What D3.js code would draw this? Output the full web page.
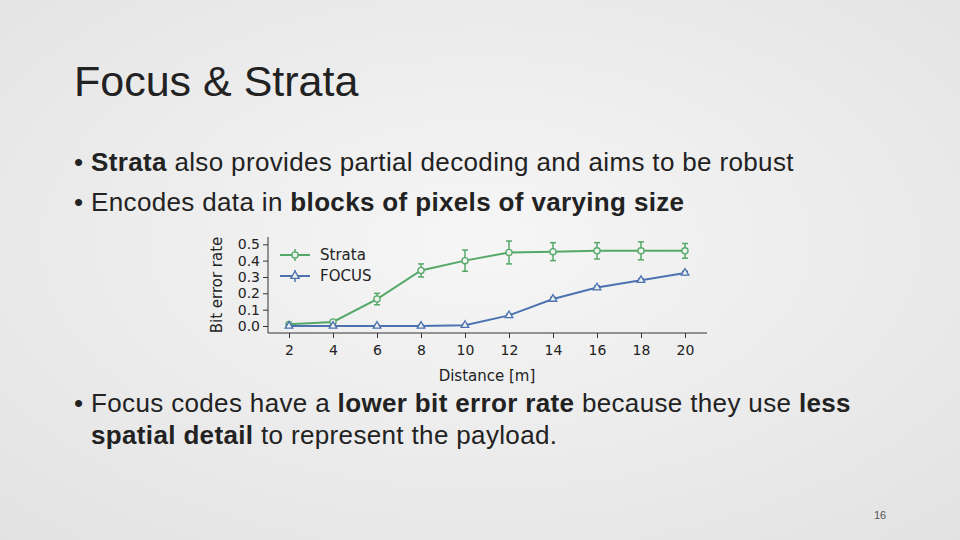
<!DOCTYPE html>
<html><head><meta charset="utf-8">
<script src="https://d3js.org/d3.v7.min.js"></script>
<style>
body{margin:0;}
svg{display:block;}
</style></head>
<body>
<script>
  var distances = [2, 4, 6, 8, 10, 12, 14, 16, 18, 20];
  var strataBer = [0.01, 0.025, 0.165, 0.34, 0.40, 0.45, 0.455, 0.46, 0.46, 0.46];
  var strataErr = [0.005, 0.01, 0.035, 0.04, 0.065, 0.07, 0.055, 0.05, 0.055, 0.045];
  var focusBer = [0, 0, 0, 0, 0.005, 0.065, 0.165, 0.235, 0.28, 0.325];
  var focusErr = [0.005, 0.005, 0.005, 0.005, 0.005, 0.008, 0.01, 0.01, 0.01, 0.01];
  var yTicks = [0, 0.1, 0.2, 0.3, 0.4, 0.5];

  var green = "#55a868", blue = "#4c72b0";

  var svg = d3.select("body").append("svg").attr("width", 960).attr("height", 540);

  // slide background
  var grad = svg.append("defs").append("radialGradient").attr("id", "bg")
    .attr("cx", "50%").attr("cy", "45%").attr("r", "75%");
  grad.append("stop").attr("offset", "0%").attr("stop-color", "#f6f6f6");
  grad.append("stop").attr("offset", "100%").attr("stop-color", "#e2e2e2");
  svg.append("rect").attr("width", 960).attr("height", 540).attr("fill", "url(#bg)");

  var font = "'Liberation Sans', Arial, sans-serif";
  svg.append("text").attr("x", 74).attr("y", 96).attr("font-family", font)
    .attr("font-size", 43).attr("fill", "#222").text("Focus & Strata");

  function bullet(y, parts, x) {
    var t = svg.append("text").attr("x", x || 74).attr("y", y).attr("font-family", font)
      .attr("font-size", 26).attr("letter-spacing", 0.35).attr("fill", "#222");
    parts.forEach(p => t.append("tspan").attr("font-weight", p[1] ? "bold" : null).text(p[0]));
  }
  bullet(171, [["• ", 0], ["Strata", 1], [" also provides partial decoding and aims to be robust", 0]]);
  bullet(211, [["• Encodes data in ", 0], ["blocks of pixels of varying size", 1]]);
  bullet(412, [["• Focus codes have a ", 0], ["lower bit error rate", 1], [" because they use ", 0], ["less", 1]]);
  bullet(444, [["spatial detail", 1], [" to represent the payload.", 0]], 91);
  svg.append("text").attr("x", 880).attr("y", 519).attr("text-anchor", "middle")
    .attr("font-family", font).attr("font-size", 11).attr("fill", "#555").text("16");

  // chart
  var x = d3.scaleLinear().domain([2, 20]).range([289, 685]);
  var y = d3.scaleLinear().domain([0, 0.5]).range([326, 244.3]);
  var cf = "'DejaVu Sans', sans-serif";
  var g = svg.append("g");

  var xAxis = g.append("g").attr("transform", "translate(0,333)")
    .call(d3.axisBottom(x).tickValues(distances).tickSize(5).tickPadding(7));
  xAxis.select(".domain").attr("d", "M268,0H707");
  var yAxis = g.append("g").attr("transform", "translate(268,0)")
    .call(d3.axisLeft(y).tickValues(yTicks).tickFormat(d3.format(".1f")).tickSize(5).tickPadding(3));
  yAxis.select(".domain").attr("d", "M0,237V333");
  g.selectAll(".tick text").attr("font-family", cf).attr("font-size", 14).attr("fill", "#222");
  g.selectAll(".domain,.tick line").attr("stroke", "#333");

  g.append("text").attr("transform", "translate(222,285) rotate(-90)").attr("text-anchor", "middle")
    .attr("font-family", cf).attr("font-size", 15).attr("fill", "#222").text("Bit error rate");
  g.append("text").attr("x", 487).attr("y", 381).attr("text-anchor", "middle")
    .attr("font-family", cf).attr("font-size", 15).attr("fill", "#222").text("Distance [m]");

  function series(vals, errs, color, marker) {
    var pts = distances.map((d, i) => ({x: d, v: vals[i], e: errs[i]}));
    g.append("path").datum(pts).attr("fill", "none").attr("stroke", color).attr("stroke-width", 2)
      .attr("d", d3.line().x(d => x(d.x)).y(d => y(d.v)));
    var eb = g.append("g").attr("stroke", color).attr("stroke-width", 1.5);
    pts.forEach(d => {
      eb.append("line").attr("x1", x(d.x)).attr("x2", x(d.x)).attr("y1", y(d.v - d.e)).attr("y2", y(d.v + d.e));
      [d.v - d.e, d.v + d.e].forEach(v => eb.append("line").attr("x1", x(d.x) - 3).attr("x2", x(d.x) + 3).attr("y1", y(v)).attr("y2", y(v)));
    });
    g.selectAll(null).data(pts).enter().append("path")
      .attr("transform", d => "translate(" + x(d.x) + "," + y(d.v) + ")")
      .attr("d", d3.symbol().type(marker).size(marker === d3.symbolCircle ? 30 : 25))
      .attr("fill", "#eef2ee").attr("stroke", color).attr("stroke-width", 1.3);
  }
  series(strataBer, strataErr, green, d3.symbolCircle);
  series(focusBer, focusErr, blue, d3.symbolTriangle);

  // legend
  [["Strata", green, d3.symbolCircle, 255], ["FOCUS", blue, d3.symbolTriangle, 276]].forEach(l => {
    g.append("line").attr("x1", 280).attr("x2", 310).attr("y1", l[3]).attr("y2", l[3]).attr("stroke", l[1]).attr("stroke-width", 2);
    g.append("line").attr("x1", 295).attr("x2", 295).attr("y1", l[3] - 6).attr("y2", l[3] + 6).attr("stroke", l[1]).attr("stroke-width", 1.5);
    g.append("path").attr("transform", "translate(295," + l[3] + ")").attr("d", d3.symbol().type(l[2]).size(30))
      .attr("fill", "#eef2ee").attr("stroke", l[1]).attr("stroke-width", 1.3);
    g.append("text").attr("x", 320).attr("y", l[3] + 5).attr("font-family", cf).attr("font-size", 15)
      .attr("fill", "#222").text(l[0]);
  });
</script>
</body></html>
